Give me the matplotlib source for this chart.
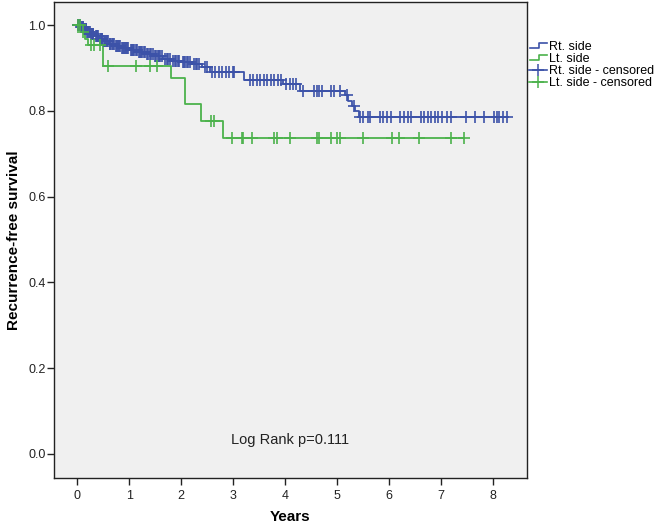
import numpy as np
import matplotlib.pyplot as plt
from matplotlib.lines import Line2D
from matplotlib.legend_handler import HandlerBase

plt.rcParams['font.family'] = ['Liberation Sans', 'DejaVu Sans']

# Rt. side: event times and survival after each event
rt_event_t = [0.06, 0.12, 0.18, 0.25, 0.33, 0.42, 0.5, 0.6, 0.72, 0.85, 1.0, 1.15,
              1.32, 1.48, 1.65, 1.82, 1.99, 2.2, 2.4, 2.56, 3.2, 3.96, 4.29,
              5.15, 5.22, 5.28, 5.35, 5.42]
rt_event_s = [0.995, 0.99, 0.985, 0.98, 0.975, 0.968, 0.962, 0.957, 0.951, 0.946,
              0.941, 0.937, 0.933, 0.927, 0.921, 0.917, 0.913, 0.909, 0.903, 0.891,
              0.871, 0.863, 0.846, 0.836, 0.824, 0.812, 0.800, 0.785]
rt_cens_t = [0.01, 0.02, 0.04, 0.05, 0.07, 0.08, 0.1, 0.11, 0.13, 0.14, 0.16, 0.17,
             0.19, 0.21, 0.22, 0.24, 0.26, 0.28, 0.3, 0.31, 0.35, 0.37, 0.38, 0.4,
             0.44, 0.45, 0.47, 0.48, 0.52, 0.54, 0.55, 0.57, 0.59, 0.62, 0.63, 0.66,
             0.68, 0.7, 0.74, 0.76, 0.78, 0.8, 0.82, 0.86, 0.88, 0.9, 0.92, 0.94,
             0.96, 0.98, 1.03, 1.05, 1.07, 1.1, 1.12, 1.14, 1.18, 1.21, 1.23, 1.25,
             1.28, 1.3, 1.35, 1.37, 1.4, 1.42, 1.45, 1.5, 1.52, 1.56, 1.58, 1.6,
             1.63, 1.68, 1.72, 1.75, 1.78, 1.85, 1.88, 1.9, 1.93, 1.96, 2.03, 2.06,
             2.08, 2.11, 2.14, 2.17, 2.24, 2.28, 2.31, 2.34, 2.45, 2.5, 2.6, 2.66,
             2.73, 2.79, 2.86, 2.92, 2.99, 3.02, 3.32, 3.39, 3.46, 3.52, 3.59, 3.66,
             3.72, 3.79, 3.86, 3.92, 4.02, 4.09, 4.15, 4.22, 4.35, 4.55, 4.62, 4.65,
             4.72, 4.88, 4.95, 5.05, 5.2, 5.32, 5.45, 5.51, 5.59, 5.64, 5.83, 5.89,
             5.96, 6.04, 6.22, 6.30, 6.36, 6.43, 6.62, 6.68, 6.75, 6.81, 6.88, 6.94,
             7.02, 7.11, 7.20, 7.49, 7.65, 7.83, 8.02, 8.08, 8.13, 8.20, 8.28]

# Lt. side
lt_event_t = [0.08, 0.15, 0.2, 0.49, 1.8, 2.07, 2.38, 2.8]
lt_event_s = [0.984, 0.968, 0.953, 0.905, 0.876, 0.815, 0.776, 0.737]
lt_cens_t = [0.02, 0.05, 0.1, 0.26, 0.32, 0.43, 0.59, 1.13, 1.4, 1.53, 2.57, 2.63,
             2.98, 3.17, 3.19, 3.36, 3.79, 3.84, 4.09, 4.61, 4.65, 4.88, 5.0, 5.06,
             5.5, 6.06, 6.19, 6.58, 7.19, 7.45]

blue = '#3c52a8'
green = '#4cb24c'


def surv_at(t, ev_t, ev_s):
    idx = np.searchsorted(ev_t, t, side='right')
    s = np.concatenate([[1.0], ev_s])
    return s[idx]


def draw_curve(ax, ev_t, ev_s, cens_t, color):
    end = max(max(cens_t), max(ev_t))
    xs = np.concatenate([[0.0], ev_t, [end]])
    ys = np.concatenate([[1.0], ev_s, [ev_s[-1]]])
    ax.step(xs, ys, where='post', color=color, lw=1.3, zorder=3)
    ax.plot(cens_t, surv_at(np.array(cens_t), ev_t, ev_s), ls='none', marker='+',
            ms=8, mew=1.2, color=color, zorder=4)


class StepHandler(HandlerBase):
    def create_artists(self, legend, orig_handle, xdescent, ydescent, width,
                       height, fontsize, trans):
        xs = np.array([0.05, 0.55, 0.55, 1.0]) * width - xdescent
        ys = np.array([0.2, 0.2, 0.8, 0.8]) * height - ydescent
        line = Line2D(xs, ys, color=orig_handle.get_color(), lw=1.2)
        line.set_transform(trans)
        return [line]


fig = plt.figure(figsize=(6.62, 5.26), dpi=100)
ax = fig.add_axes([54 / 662, 1 - 478 / 526, (527 - 54) / 662, (478 - 2) / 526])
ax.set_facecolor('#f0f0f0')

draw_curve(ax, rt_event_t, rt_event_s, rt_cens_t, blue)
draw_curve(ax, lt_event_t, lt_event_s, lt_cens_t, green)

ax.set_xlim(-0.45, 8.66)
ax.set_ylim(-0.056, 1.054)
ax.set_xticks(range(0, 9))
ax.set_yticks([0.0, 0.2, 0.4, 0.6, 0.8, 1.0])
ax.set_yticklabels(['0.0', '0.2', '0.4', '0.6', '0.8', '1.0'])
ax.tick_params(direction='out', length=5, width=1, labelsize=9, colors='#222222')
ax.tick_params(axis='y', pad=1)
for sp in ax.spines.values():
    sp.set_linewidth(1.0)
    sp.set_color('#222222')

ax.set_xlabel('Years', fontsize=11, fontweight='bold', labelpad=6)
ax.set_ylabel('Recurrence-free survival', fontsize=11, fontweight='bold', labelpad=5)
ax.text(0.5, 0.08, 'Log Rank p=0.111', transform=ax.transAxes, ha='center',
        va='center', fontsize=10.5, color='#222222')

h_rt = Line2D([], [], color=blue)
h_lt = Line2D([], [], color=green)
h_rtc = Line2D([], [], color=blue, lw=1.2, marker='+', ms=9, mew=1.1)
h_ltc = Line2D([], [], color=green, lw=1.2, marker='+', ms=9, mew=1.1)
fig.legend([h_rt, h_lt, h_rtc, h_ltc],
           ['Rt. side', 'Lt. side', 'Rt. side - censored', 'Lt. side - censored'],
           loc='upper left', bbox_to_anchor=(529 / 662, 1 - 41 / 526),
           frameon=False, fontsize=9, handlelength=1.4, handletextpad=0.2,
           labelspacing=0.0, borderaxespad=0, borderpad=0,
           handler_map={h_rt: StepHandler(), h_lt: StepHandler()})

fig.savefig('out.png', dpi=100)
